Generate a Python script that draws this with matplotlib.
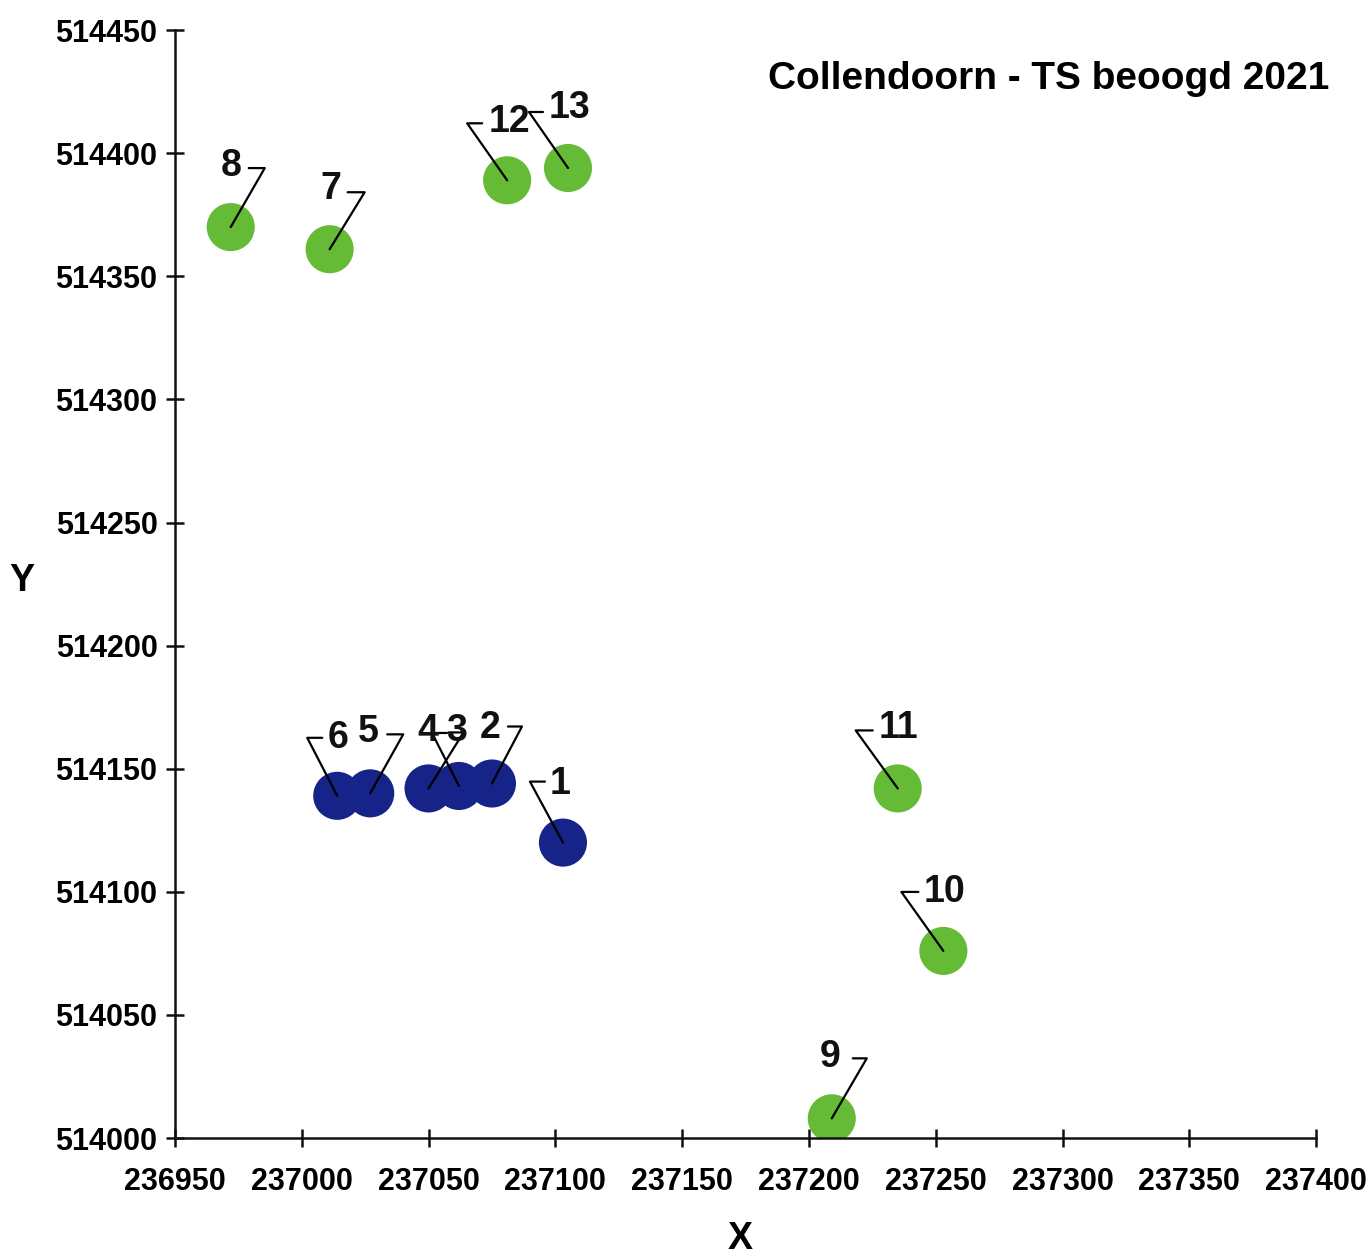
import math
import matplotlib
matplotlib.use("Agg")
import matplotlib.pyplot as plt

plt.rcParams['font.family'] = ['Liberation Sans', 'DejaVu Sans']

# point numbers and coordinates
point_ids = [1, 2, 3, 4, 5, 6, 7, 8, 9, 10, 11, 12, 13]
x_vals = [237103, 237075, 237062, 237050, 237027, 237014, 237011,
          236972, 237209, 237253, 237235, 237081, 237105]
y_vals = [514120, 514144, 514143, 514142, 514140, 514139, 514361,
          514370, 514008, 514076, 514142, 514389, 514394]
groups = ["bestaand", "bestaand", "bestaand", "bestaand", "bestaand", "bestaand",
          "nieuw", "nieuw", "nieuw", "nieuw", "nieuw", "nieuw", "nieuw"]

x_ticks = [236950, 237000, 237050, 237100, 237150, 237200, 237250, 237300, 237350, 237400]
y_ticks = [514000, 514050, 514100, 514150, 514200, 514250, 514300, 514350, 514400, 514450]

title = "Collendoorn - TS beoogd 2021"

group_colors = {"bestaand": "#16248a", "nieuw": "#66bb36"}

# leader layout in pixels: (elbow dx, stub dx, dy, label dx, label dy)
leader = {
    1: (-33, -18, 61, -3, 59),
    2: (30, 16, 57, -2, 56),
    3: (-27, -12, 53, -2, 55),
    4: (35, 20, 56, -1, 57),
    5: (33, 17, 59, -2, 61),
    6: (-30, -15, 58, 1, 58),
    7: (35, 18, 57, 1, 60),
    8: (34, 18, 59, 0, 61),
    9: (35, 21, 60, -2, 61),
    10: (-42, -25, 59, 1, 59),
    11: (-42, -25, 58, 1, 60),
    12: (-40, -25, 57, 2, 58),
    13: (-39, -25, 56, 1, 60),
}

fig = plt.figure(figsize=(13.71, 12.55), dpi=100)
ax = fig.add_axes([0.1276, 0.0932, 0.8324, 0.8828])

colors = [group_colors[g] for g in groups]
ax.scatter(x_vals, y_vals, s=1200, c=colors, edgecolors='none', zorder=2)

for pid, x, y in zip(point_ids, x_vals, y_vals):
    ex, sx, dy, lx, ly = leader[pid]
    ang = math.degrees(math.atan2(dy, ex))
    ax.annotate('', xy=(x, y), xytext=(sx, dy), textcoords='offset pixels',
                arrowprops=dict(arrowstyle='-', color='black', lw=1.6,
                                shrinkA=0, shrinkB=0,
                                connectionstyle=f'angle,angleA=0,angleB={ang},rad=0'),
                zorder=3)
    ax.annotate(str(pid), xy=(x, y), xytext=(lx, ly), textcoords='offset pixels',
                ha='center', va='center', fontsize=27, fontweight='bold',
                color='#111111', zorder=4)

ax.set_xlim(x_ticks[0], x_ticks[-1])
ax.set_ylim(y_ticks[0], y_ticks[-1])
ax.set_xticks(x_ticks)
ax.set_yticks(y_ticks)
ax.set_xticklabels([str(t) for t in x_ticks], fontsize=22, fontweight='bold')
ax.set_yticklabels([str(t) for t in y_ticks], fontsize=22, fontweight='bold')
ax.tick_params(axis='both', direction='inout', length=13, width=1.8, color='#111111')
ax.tick_params(axis='x', pad=14)
ax.tick_params(axis='y', pad=6)

for side in ['top', 'right']:
    ax.spines[side].set_visible(False)
for side in ['left', 'bottom']:
    ax.spines[side].set_linewidth(1.8)
    ax.spines[side].set_color('#111111')

fig.text(0.97, 0.937, title, ha='right', va='center', fontsize=28, fontweight='bold')
fig.text(0.016, 0.537, "Y", ha='center', va='center', fontsize=27, fontweight='bold')
fig.text(0.54, 0.013, "X", ha='center', va='center', fontsize=27, fontweight='bold')

fig.savefig("out.png", dpi=100)
